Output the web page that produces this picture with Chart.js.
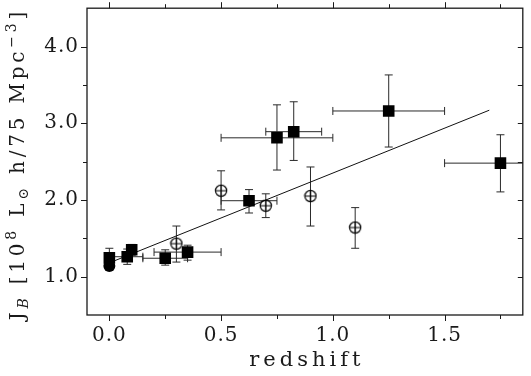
<!DOCTYPE html>
<html><head><meta charset="utf-8">
<script src="https://cdn.jsdelivr.net/npm/chart.js@4.4.1/dist/chart.umd.min.js"></script>
<style>html,body{margin:0;padding:0;background:#fff}</style>
</head><body>
<canvas id="c" width="531" height="376"></canvas>
<script>
// ---- data ----
const squareX   = [0.00, 0.08, 0.10, 0.25, 0.35, 0.625, 0.75, 0.825, 1.25, 1.75];
const squareY   = [1.245, 1.26, 1.35, 1.24, 1.32, 1.99, 2.81, 2.89, 3.16, 2.48];
const squareXLo = [0.00, 0.00, 0.10, 0.15, 0.20, 0.50, 0.50, 0.70, 1.00, 1.50];
const squareXHi = [0.00, 0.15, 0.10, 0.35, 0.50, 0.75, 1.00, 0.95, 1.50, 2.00];
const squareYLo = [1.14, 1.16, 1.28, 1.15, 1.215, 1.83, 2.39, 2.515, 2.69, 2.105];
const squareYHi = [1.37, 1.36, 1.42, 1.35, 1.41, 2.135, 3.24, 3.28, 3.63, 2.85];

const circleX   = [0.00, 0.30, 0.50, 0.70, 0.90, 1.10];
const circleY   = [1.14, 1.43, 2.12, 1.925, 2.05, 1.64];
const circleYLo = [1.14, 1.19, 1.87, 1.77, 1.66, 1.37];
const circleYHi = [1.14, 1.66, 2.38, 2.08, 2.43, 1.90];
const circleFilled = [true, false, false, false, false, false];

const fitX = [0.00, 1.70];
const fitY = [1.18, 3.17];

const xTickLabels = [0.0, 0.5, 1.0, 1.5];
const yTickLabels = [1.0, 2.0, 3.0, 4.0];
const xTickMarks  = [0.0, 0.25, 0.5, 0.75, 1.0, 1.25, 1.5, 1.75];
const yTickMarks  = [1.0, 1.5, 2.0, 2.5, 3.0, 3.5, 4.0];
const xTitle = 'redshift';
const yTitlePieces = [
  {t:'J', k:'n'}, {t:'B', k:'subi'}, {t:' [10', k:'n'}, {t:'8', k:'sup'},
  {t:' L', k:'n'}, {t:'\u2299', k:'sub'}, {t:' h/75 Mpc', k:'n'}, {t:'\u22123', k:'sup'}, {t:']', k:'n'}
];

// ---- open circle marker with a cross ----
function makeCircleIcon() {
  const c = document.createElement('canvas');
  c.width = 14; c.height = 14;
  const g = c.getContext('2d');
  g.strokeStyle = '#000'; g.lineWidth = 1.2;
  g.beginPath(); g.arc(7, 7, 5.6, 0, Math.PI * 2); g.stroke();
  g.lineWidth = 1;
  g.beginPath(); g.moveTo(1.5, 7); g.lineTo(12.5, 7); g.moveTo(7, 1.5); g.lineTo(7, 12.5); g.stroke();
  return c;
}
const circleIcon = makeCircleIcon();

const FONT = '"DejaVu Serif", serif';
const INK = '#1a1a1a';

const errorBars = {
  id: 'errorBars',
  beforeDatasetsDraw(chart) {
    const {ctx, scales: {x, y}} = chart;
    const L = x.getPixelForValue(x.min), R = x.getPixelForValue(x.max);
    const T = y.getPixelForValue(y.max), B = y.getPixelForValue(y.min);
    ctx.save();
    ctx.beginPath(); ctx.rect(L, T, R - L, B - T); ctx.clip();
    ctx.strokeStyle = '#2a2a2a'; ctx.lineWidth = 1;
    chart.data.datasets.forEach(ds => {
      if (!ds.err) return;
      const e = ds.err;
      ds.data.forEach((p, i) => {
        const px = x.getPixelForValue(p.x), py = y.getPixelForValue(p.y);
        ctx.beginPath();
        if (e.yLo && e.yLo[i] !== e.yHi[i]) {
          const y1 = y.getPixelForValue(e.yLo[i]), y2 = y.getPixelForValue(e.yHi[i]);
          ctx.moveTo(px, y1); ctx.lineTo(px, y2);
          ctx.moveTo(px - 4, y1); ctx.lineTo(px + 4, y1);
          ctx.moveTo(px - 4, y2); ctx.lineTo(px + 4, y2);
        }
        if (e.xLo && e.xLo[i] !== e.xHi[i]) {
          const x1 = x.getPixelForValue(e.xLo[i]), x2 = x.getPixelForValue(e.xHi[i]);
          ctx.moveTo(x1, py); ctx.lineTo(x2, py);
          ctx.moveTo(x1, py - 4); ctx.lineTo(x1, py + 4);
          ctx.moveTo(x2, py - 4); ctx.lineTo(x2, py + 4);
        }
        ctx.stroke();
      });
    });
    ctx.restore();
  }
};

function spacedWidth(ctx, s, sp) {
  let w = 0;
  for (const ch of s) w += ctx.measureText(ch).width + sp;
  return w;
}
function drawSpaced(ctx, s, x, y, sp) {
  for (const ch of s) { ctx.fillText(ch, x, y); x += ctx.measureText(ch).width + sp; }
  return x;
}

const frame = {
  id: 'frame',
  beforeDraw(chart) { chart.ctx.letterSpacing = '1px'; },
  afterDraw(chart) {
    const {ctx, scales: {x, y}} = chart;
    const L = x.getPixelForValue(x.min), R = x.getPixelForValue(x.max);
    const T = y.getPixelForValue(y.max), B = y.getPixelForValue(y.min);
    ctx.save();
    ctx.letterSpacing = '0px';
    ctx.strokeStyle = INK; ctx.lineWidth = 1.3;
    ctx.strokeRect(L, T, R - L, B - T);
    ctx.lineWidth = 1;
    ctx.beginPath();
    xTickMarks.forEach(v => {
      const px = Math.round(x.getPixelForValue(v)) + 0.5;
      const len = (Math.abs(v * 2 - Math.round(v * 2)) < 1e-6) ? 6 : 4;
      ctx.moveTo(px, B); ctx.lineTo(px, B + len);
      ctx.moveTo(px, T); ctx.lineTo(px, T - len);
    });
    yTickMarks.forEach(v => {
      const py = Math.round(y.getPixelForValue(v)) + 0.5;
      const len = (Math.abs(v - Math.round(v)) < 1e-6) ? 6 : 4;
      ctx.moveTo(L, py); ctx.lineTo(L - len, py);
      ctx.moveTo(R, py); ctx.lineTo(R - 5, py);
    });
    ctx.stroke();

    // titles
    ctx.fillStyle = INK;
    ctx.textBaseline = 'alphabetic';
    ctx.font = '21px ' + FONT;
    const XSP = 4;
    const xw = spacedWidth(ctx, xTitle, XSP) - XSP;
    drawSpaced(ctx, xTitle, (L + R) / 2 - xw / 2, 366, XSP);

    const SP = 3.8;
    const fontFor = k => k === 'n' ? '20px ' + FONT : (k === 'subi' ? 'italic 14px ' + FONT : '14px ' + FONT);
    const offFor = k => k === 'n' ? 0 : (k.startsWith('sub') ? 4 : -8);
    let total = 0;
    yTitlePieces.forEach(p => { ctx.font = fontFor(p.k); total += spacedWidth(ctx, p.t, SP); });
    total -= SP;
    ctx.translate(24, 166);
    ctx.rotate(-Math.PI / 2);
    let cx = -total / 2;
    yTitlePieces.forEach(p => { ctx.font = fontFor(p.k); cx = drawSpaced(ctx, p.t, cx, offFor(p.k), SP); });
    ctx.restore();
  }
};

new Chart(document.getElementById('c'), {
  data: {
    datasets: [
      {
        type: 'scatter', label: 'squares',
        data: squareX.map((v, i) => ({x: v, y: squareY[i]})),
        err: {xLo: squareXLo, xHi: squareXHi, yLo: squareYLo, yHi: squareYHi},
        pointStyle: 'rect', pointRadius: 8.2, pointHoverRadius: 8.2,
        backgroundColor: '#000', borderColor: '#000', borderWidth: 0
      },
      {
        type: 'scatter', label: 'circles',
        data: circleX.map((v, i) => ({x: v, y: circleY[i]})),
        err: {yLo: circleYLo, yHi: circleYHi},
        pointStyle: ctx => circleFilled[ctx.dataIndex] ? 'circle' : circleIcon,
        pointRadius: 6, pointHoverRadius: 6,
        backgroundColor: '#000', borderColor: '#000', borderWidth: 0
      },
      {
        type: 'line', label: 'fit',
        data: fitX.map((v, i) => ({x: v, y: fitY[i]})),
        borderColor: '#111', borderWidth: 1, pointRadius: 0, fill: false
      }
    ]
  },
  options: {
    responsive: false, animation: false, devicePixelRatio: 1,
    layout: {padding: {top: 6, right: 6, left: 0, bottom: 0}},
    plugins: {legend: {display: false}, tooltip: {enabled: false}},
    scales: {
      x: {
        type: 'linear', min: -0.1, max: 1.85,
        afterBuildTicks: s => { s.ticks = xTickLabels.map(v => ({value: v})); },
        afterFit: s => { s.height = 61; s.paddingLeft = 0; s.paddingRight = 0; },
        grid: {display: false, drawTicks: false},
        border: {display: false},
        ticks: {padding: 9, color: INK, font: {family: FONT, size: 20}, maxRotation: 0,
                callback: v => Number(v).toFixed(1)}
      },
      y: {
        type: 'linear', min: 0.5, max: 4.5,
        afterBuildTicks: s => { s.ticks = yTickLabels.map(v => ({value: v})); },
        afterFit: s => { s.width = 87; s.paddingTop = 0; s.paddingBottom = 0; },
        grid: {display: false, drawTicks: false},
        border: {display: false},
        ticks: {padding: 8, color: INK, font: {family: FONT, size: 20},
                callback: v => Number(v).toFixed(1)}
      }
    }
  },
  plugins: [errorBars, frame]
});
</script>
</body></html>
